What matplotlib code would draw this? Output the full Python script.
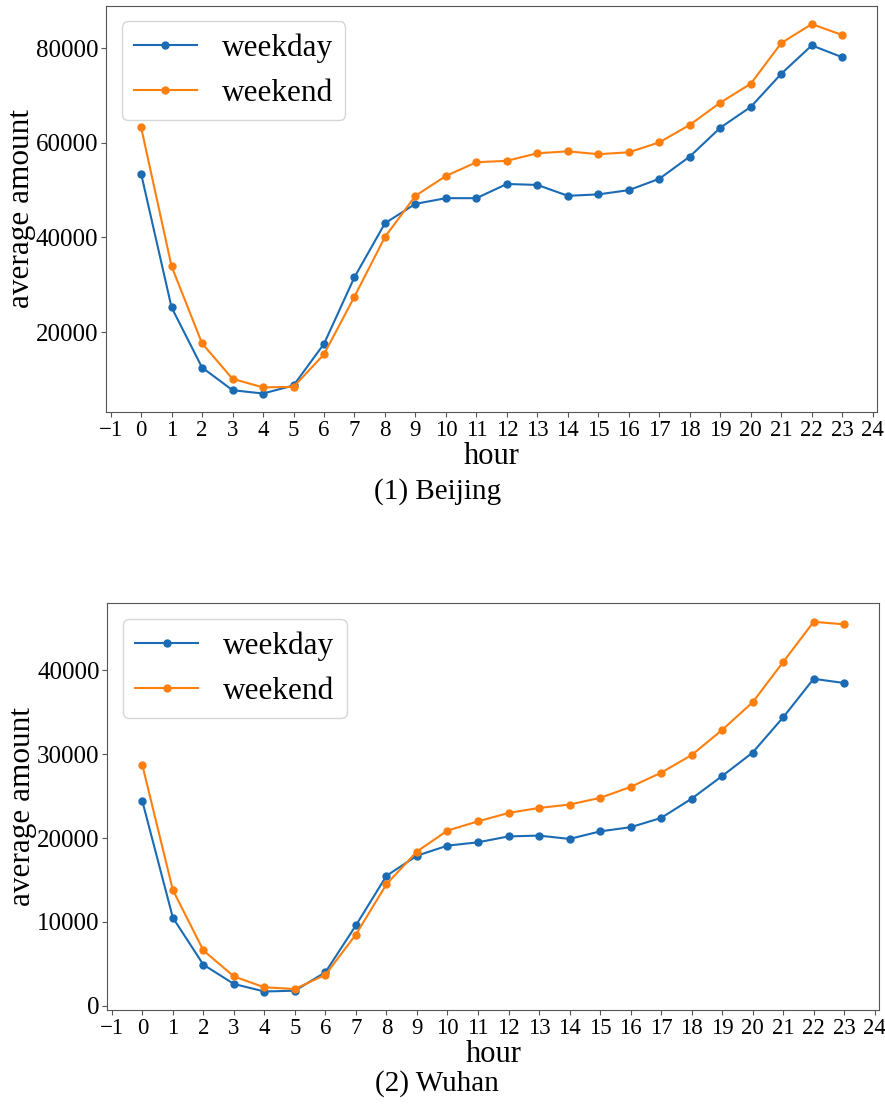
import matplotlib
matplotlib.use("Agg")
import matplotlib.pyplot as plt

plt.rcParams['font.family'] = ['Liberation Serif', 'DejaVu Serif']

# ======================== DATA ========================
hours = list(range(24))
xticks = list(range(-1, 25))

beijing_weekday = [53500, 25200, 12500, 7700, 7000, 8700, 17500, 31600, 43000, 47100,
                   48300, 48300, 51300, 51100, 48800, 49100, 50000, 52400, 57100, 63200,
                   67600, 74600, 80600, 78100]
beijing_weekend = [63300, 33900, 17600, 10100, 8300, 8400, 15300, 27500, 40100, 48800,
                   53000, 55900, 56200, 57800, 58200, 57600, 58000, 60100, 63800, 68500,
                   72500, 81100, 85100, 82800]

wuhan_weekday = [24400, 10500, 4900, 2600, 1700, 1800, 4000, 9600, 15500, 17900,
                 19100, 19500, 20200, 20300, 19900, 20800, 21300, 22400, 24700, 27400,
                 30200, 34400, 39000, 38500]
wuhan_weekend = [28700, 13800, 6600, 3500, 2200, 2000, 3700, 8500, 14500, 18400,
                 20900, 22000, 23000, 23600, 24000, 24800, 26100, 27800, 29900, 32900,
                 36200, 41000, 45800, 45500]

panels = [
    ("(1) Beijing", beijing_weekday, beijing_weekend, [20000, 40000, 60000, 80000]),
    ("(2) Wuhan", wuhan_weekday, wuhan_weekend, [0, 10000, 20000, 30000, 40000]),
]

blue = "#1a6bb4"
orange = "#ff7f0e"

# ======================== PLOT ========================
fig = plt.figure(figsize=(8.85, 11.06), dpi=100)

# axes boxes in figure coords (left, bottom, width, height)
boxes = [(0.1198, 0.6275, 0.8715, 0.3674), (0.1212, 0.0868, 0.8723, 0.3677)]
caption_y = [0.5435, 0.008]

for (title, wd, we, yticks), box, cy in zip(panels, boxes, caption_y):
    ax = fig.add_axes(box)
    ax.plot(hours, wd, color=blue, marker="o", markersize=5, linewidth=1.5, label="weekday")
    ax.plot(hours, we, color=orange, marker="o", markersize=5, linewidth=1.5, label="weekend")

    ax.set_xticks(xticks)
    ax.set_yticks(yticks)
    ax.tick_params(axis="x", labelsize=16.5, pad=2, color="#555555")
    ax.tick_params(axis="y", labelsize=18, pad=2, color="#555555")
    for sp in ax.spines.values():
        sp.set_color("#555555")

    ax.set_xlabel("hour", fontsize=22, labelpad=1)
    ax.set_ylabel("average amount", fontsize=22.5, labelpad=0)
    ax.legend(loc="upper left", fontsize=22.5, handlelength=2.0)

    fig.text(0.494, cy, title, fontsize=21, ha="center", va="bottom")

plt.savefig("out.png", dpi=100)
